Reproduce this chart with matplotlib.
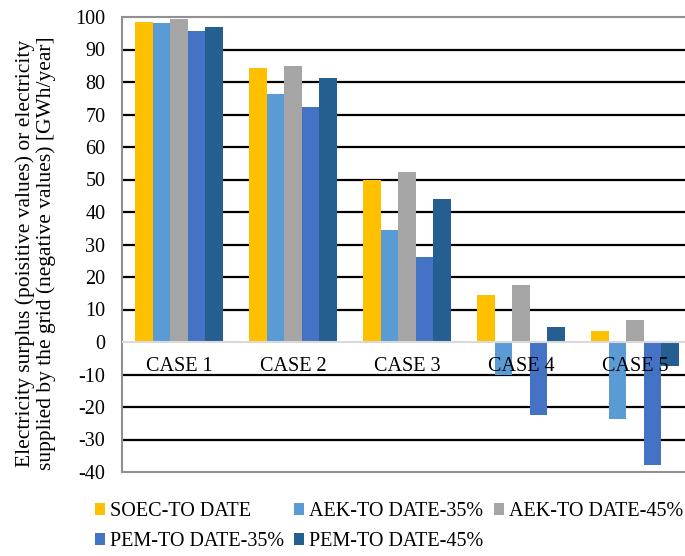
import numpy as np
import matplotlib.pyplot as plt

plt.rcParams['font.family'] = ['Liberation Serif', 'DejaVu Serif']

cases = ['CASE 1', 'CASE 2', 'CASE 3', 'CASE 4', 'CASE 5']
series = ['SOEC-TO DATE', 'AEK-TO DATE-35%', 'AEK-TO DATE-45%',
          'PEM-TO DATE-35%', 'PEM-TO DATE-45%']
soec = [98.6, 84.2, 50.0, 14.4, 3.3]
aek35 = [98.1, 76.4, 34.6, -10.2, -23.6]
aek45 = [99.3, 84.9, 52.2, 17.5, 6.7]
pem35 = [95.8, 72.4, 26.2, -22.6, -37.7]
pem45 = [96.9, 81.2, 43.9, 4.7, -7.5]
colors = ['#FFC000', '#5B9BD5', '#A5A5A5', '#4472C4', '#255E91']
yticks = list(range(-40, 101, 10))

fs = 14.5
fig = plt.figure(figsize=(6.85, 5.56), dpi=100)
# plot area runs a little past the right edge, like the reference
ax = fig.add_axes([122 / 685, 1 - 472 / 556, 570 / 685, 455 / 556])

x = np.arange(len(cases))
w = 0.153
handles = []
for i, vals in enumerate([soec, aek35, aek45, pem35, pem45]):
    b = ax.bar(x + (i - 2) * w, vals, w, color=colors[i], label=series[i],
               zorder=3)
    handles.append(b)

ax.set_xlim(-0.5, 4.5)
ax.set_ylim(-40, 100)
ax.set_yticks(yticks)
ax.set_yticklabels([str(t) for t in yticks], fontsize=fs)
ax.tick_params(axis='y', length=0, pad=12)
ax.set_xticks([])
for t in yticks:
    if t in (0, 100, -40):
        continue
    ax.axhline(t, color='black', lw=1.6, zorder=1)
ax.axhline(0, color='#D9D9D9', lw=1.5, zorder=4)
for s in ax.spines.values():
    s.set_color('#909090')
    s.set_linewidth(1.5)

for xi, c in zip(x, cases):
    ax.text(xi, -4.6, c, ha='center', va='top', fontsize=fs, zorder=5)

fig.text(36 / 685, 1 - 253 / 556,
         'Electricity surplus (poisitive values) or electricity\n'
         'supplied by the grid (negative values) [GWh/year]',
         rotation=90, ha='center', va='center', fontsize=15.5,
         linespacing=1.1)

order = [0, 3, 1, 4, 2]
leg = fig.legend([handles[k] for k in order], [series[k] for k in order],
                 ncol=3, loc='upper left', bbox_to_anchor=(95 / 685, 1 - 502 / 556),
                 frameon=False, fontsize=fs, handlelength=0.5, handleheight=0.5,
                 handletextpad=0.25, columnspacing=0.5, labelspacing=0.55,
                 borderaxespad=0, borderpad=0)

fig.savefig('out.png', dpi=100)
